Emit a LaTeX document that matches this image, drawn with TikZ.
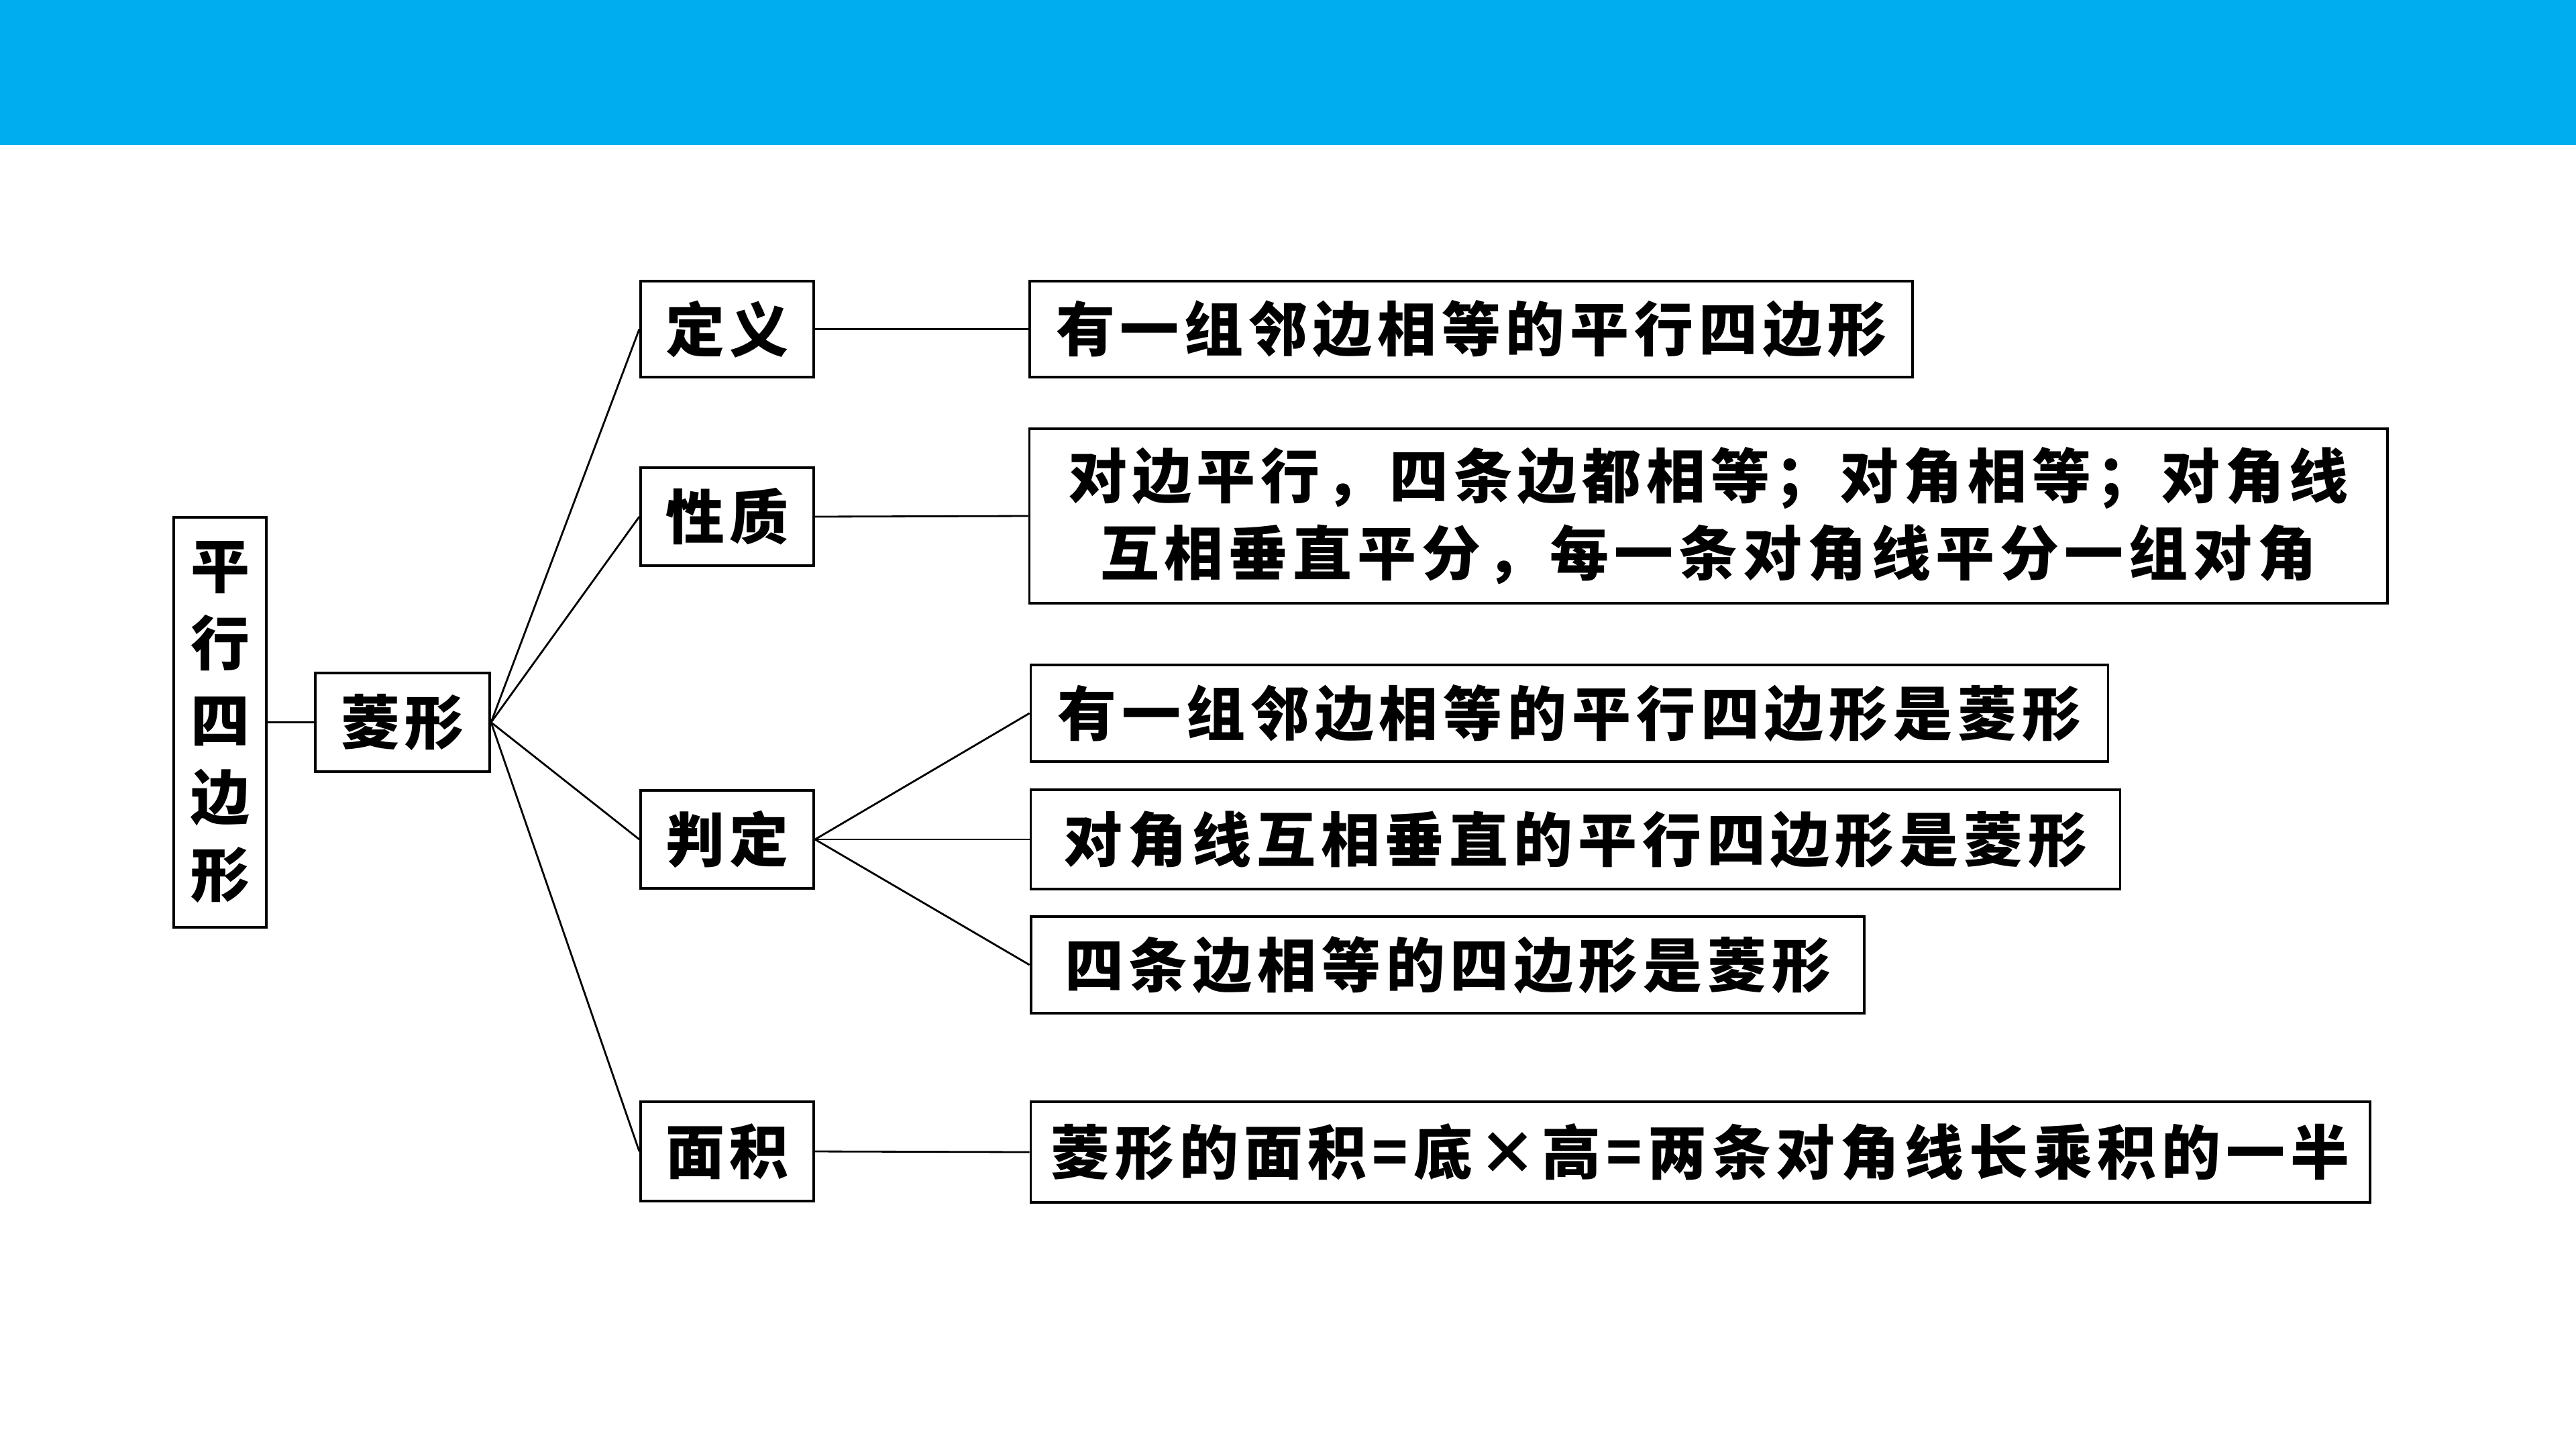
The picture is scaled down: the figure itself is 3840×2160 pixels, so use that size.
\documentclass[tikz,border=0pt]{standalone}
\usepackage{fontspec}
\setmainfont[LetterSpace=9]{Noto Sans CJK SC}
\definecolor{band}{HTML}{00AEEF}
\begin{document}
\begin{tikzpicture}[x=0.01cm,y=-0.01cm,
  box/.style={draw=black,line width=1.1pt,inner sep=0pt,align=center,
    font=\fontsize{25}{32.7}\selectfont\bfseries},
  link/.style={line width=0.8pt}]
\useasboundingbox (0,0) rectangle (3840,2160);
% title band
\fill[band] (0,0) rectangle (3840,216);

% root and main topic
\node[box,minimum width=1.38cm,minimum height=6.11cm] (P) at (328,1076.5) {平\\行\\四\\边\\形};
\node[box,minimum width=2.60cm,minimum height=1.47cm] (L) at (600,1076.5) {菱形};

% categories
\node[box,minimum width=2.58cm,minimum height=1.43cm] (def) at (1084,490.5) {定义};
\node[box,minimum width=2.58cm,minimum height=1.46cm] (prop) at (1084,770) {性质};
\node[box,minimum width=2.58cm,minimum height=1.46cm] (judge) at (1084,1251) {判定};
\node[box,minimum width=2.58cm,minimum height=1.48cm] (area) at (1084,1716) {面积};

% details
\node[box,minimum width=13.16cm,minimum height=1.43cm] (d1) at (2193,490.5) {有一组邻边相等的平行四边形};
\node[box,minimum width=20.23cm,minimum height=2.60cm] (p1) at (2546.5,769) {对边平行，四条边都相等；对角相等；对角线\\互相垂直平分，每一条对角线平分一组对角};
\node[box,minimum width=16.05cm,minimum height=1.44cm] (j1) at (2339.5,1063) {有一组邻边相等的平行四边形是菱形};
\node[box,minimum width=16.23cm,minimum height=1.48cm] (j2) at (2348.5,1251) {对角线互相垂直的平行四边形是菱形};
\node[box,minimum width=12.42cm,minimum height=1.44cm] (j3) at (2158,1438) {四条边相等的四边形是菱形};
\node[box,minimum width=19.95cm,minimum height=1.50cm] (a1) at (2534.5,1717) {菱形的面积=底×高=两条对角线长乘积的一半};

% connectors
\draw[link] (P.east) -- (L.west);
\foreach \c in {def,prop,judge,area} \draw[link] (L.east) -- (\c.west);
\draw[link] (def.east) -- (d1.west);
\draw[link] (prop.east) -- (p1.west);
\foreach \j in {j1,j2,j3} \draw[link] (judge.east) -- (\j.west);
\draw[link] (area.east) -- (a1.west);
\end{tikzpicture}
\end{document}
